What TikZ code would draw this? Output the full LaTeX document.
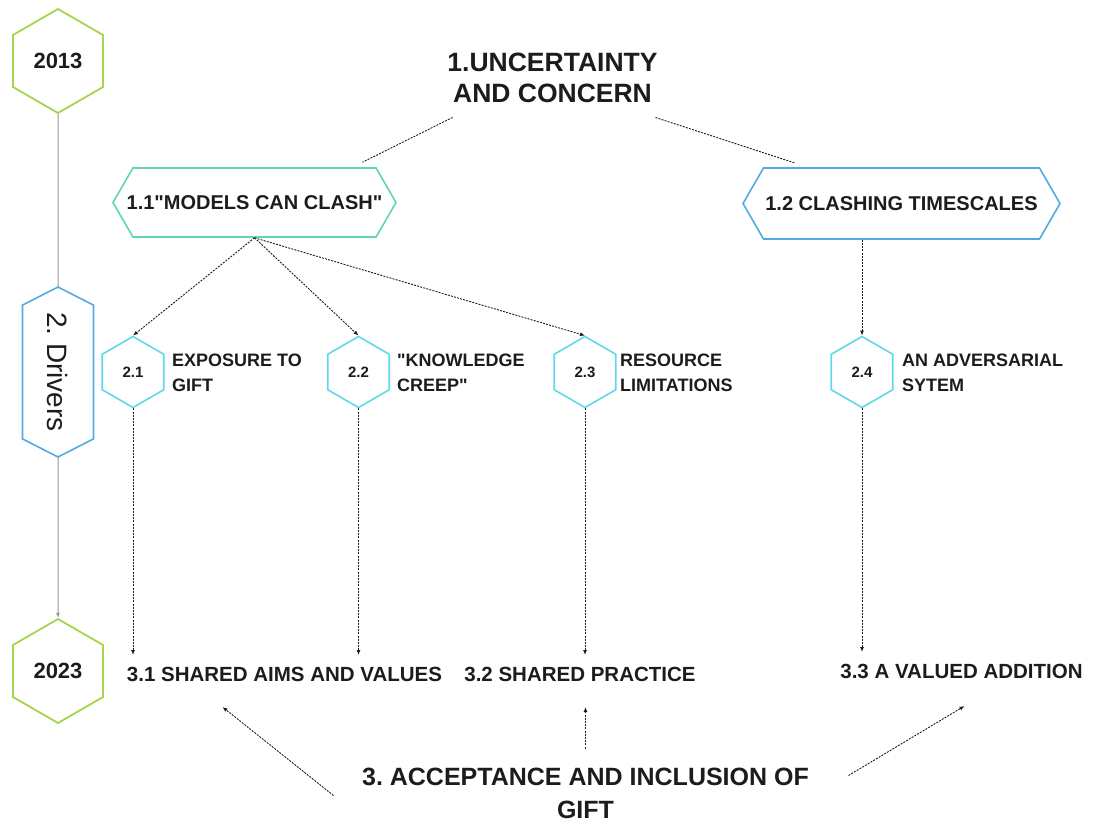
\documentclass[tikz,border=0pt]{standalone}
\usepackage{fontspec}
\setmainfont{Liberation Sans}
\usetikzlibrary{shapes.geometric,shapes.symbols,arrows.meta,calc}
\frenchspacing
\definecolor{yeargreen}{RGB}{166,212,74}
\definecolor{mint}{RGB}{94,214,178}
\definecolor{skyblue}{RGB}{82,170,226}
\definecolor{aqua}{RGB}{96,216,232}
\definecolor{ink}{RGB}{28,28,28}
\tikzset{
	yearhex/.style={regular polygon, regular polygon sides=6, shape border rotate=30, draw=yeargreen, line width=1.8pt, minimum size=104pt, inner sep=0pt, font=\fontsize{22}{26}\selectfont\bfseries, text=ink},
	drvhex/.style={regular polygon, regular polygon sides=6, shape border rotate=30, draw=aqua, line width=1.6pt, minimum size=71pt, inner sep=0pt, font=\fontsize{15}{18}\selectfont\bfseries, text=ink},
	longhex/.style={signal, signal to=east and west, signal pointer angle=120, line width=1.6pt, inner sep=0pt, font=\fontsize{20}{24}\selectfont\bfseries, text=ink},
	drvlabel/.style={anchor=west, align=left, inner sep=0pt, font=\fontsize{18}{25}\selectfont\bfseries, text=ink},
	result/.style={inner sep=0pt, font=\fontsize{20.5}{24}\selectfont\bfseries, text=ink},
	heading/.style={align=center, inner sep=0pt, text=ink},
	link/.style={draw=ink, line width=0.9pt, dash pattern=on 2pt off 1.2pt},
	arr/.style={link, -{Latex[length=5pt,width=4pt]}},
	timeline/.style={draw=gray!80, line width=1pt}
}
\begin{document}
\begin{tikzpicture}[x=1pt,y=-1pt]
	\useasboundingbox (0,0) rectangle (1093,823);
	\node[yearhex] (y13) at (58,61) {2013};
	\node[yearhex] (y23) at (58,671) {2023};
	\node[longhex, draw=skyblue, rotate=-90, signal pointer angle=126, minimum width=170pt, minimum height=71pt, font=\fontsize{28}{32}\selectfont] (drv) at (58,372) {2. Drivers};
	\draw[timeline] (y13) -- (drv);
	\draw[timeline, -{Latex[length=5pt,width=4pt]}] (drv) -- (y23);

	\node[heading, font=\fontsize{26.5}{31}\selectfont\bfseries] (ttl) at (552.5,77.5) {1.UNCERTAINTY\\AND CONCERN};
	\node[longhex, draw=mint, minimum width=283pt, minimum height=69pt] (m11) at (254.5,202.5) {\makebox[236pt]{1.1\textquotedbl MODELS CAN CLASH\textquotedbl}};
	\node[longhex, draw=skyblue, minimum width=317pt, minimum height=71pt] (m12) at (901.5,203.5) {1.2 CLASHING TIMESCALES};
	\draw[link] ([xshift=-100pt,yshift=-40pt]ttl.center) -- ([xshift=108pt,yshift=5pt]m11.north);
	\draw[link] ([xshift=103pt,yshift=-40pt]ttl.center) -- ([xshift=-106pt,yshift=4pt]m12.north);

	\foreach \n/\x in {1/133, 2/358.5, 3/585, 4/862}
		\node[drvhex] (s2\n) at (\x,372) {2.\n};
	\node[drvlabel] (l21) at (172,372.5) {EXPOSURE TO\\GIFT};
	\node[drvlabel] (l22) at (397,372.5) {\textquotedbl KNOWLEDGE\\CREEP\textquotedbl};
	\node[drvlabel] (l23) at (620,372.5) {RESOURCE\\LIMITATIONS};
	\node[drvlabel] (l24) at (902,372.5) {AN ADVERSARIAL\\SYTEM};
	\foreach \n in {1,2,3}
		\draw[arr] (m11.south) -- (s2\n.north);
	\draw[arr] (s24.north |- m12.south) -- (s24.north);

	\node[result] (t31) at (284.5,674) {3.1 SHARED AIMS AND VALUES};
	\node[result] (t32) at (580,674) {3.2 SHARED PRACTICE};
	\node[result] (t33) at (961.5,671) {3.3 A VALUED ADDITION};
	\foreach \n/\t in {1/t31, 2/t31, 3/t32, 4/t33}
		\draw[arr] (s2\n.south) -- ($(s2\n.south |- \t.center)+(0,-19)$);

	\node[heading, font=\fontsize{25}{33}\selectfont\bfseries] (ttl3) at (585.5,793.5) {3. ACCEPTANCE AND INCLUSION OF\\GIFT};
	\draw[arr] ($(ttl3.center)+(-252,2)$) -- ($(t31.center)+(-62,33)$);
	\draw[arr] ($(ttl3.center)+(0,-45)$) -- ($(ttl3.center |- t32.center)+(0,33)$);
	\draw[arr] ($(ttl3.center)+(263,-18)$) -- ($(t33.center)+(3,35)$);
\end{tikzpicture}
\end{document}
